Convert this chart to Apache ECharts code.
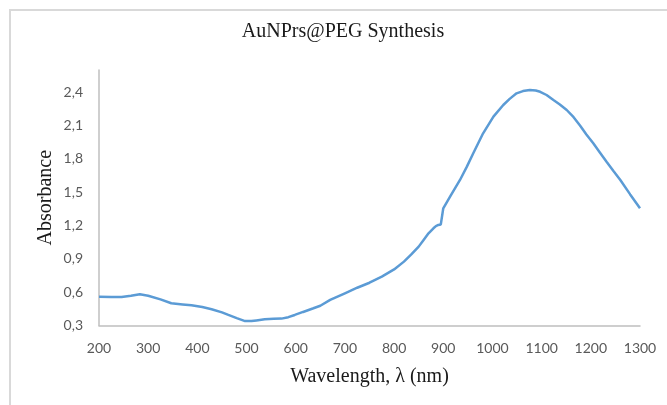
<!DOCTYPE html>
<html>
<head>
<meta charset="utf-8">
<script src="https://cdn.jsdelivr.net/npm/echarts@6/dist/echarts.min.js"></script>
<style>
html,body{margin:0;padding:0;background:#fff;}
#chart{width:667px;height:405px;}
</style>
</head>
<body>
<div id="chart"></div>
<script>
const wavelength = [200,225,246,265,283,300,325,347,370,388,410,429,450,463,480,497,510,520,537,555,571,585,598,615,636,650,670,700,725,750,775,800,820,835,850,860,870,880,885,890,895,899,900,915,934,948,961,981,1002,1022,1035,1049,1062,1076,1088,1097,1110,1124,1137,1151,1165,1178,1191,1205,1218,1232,1246,1260,1280,1300];
const absorbance = [0.559,0.557,0.556,0.568,0.581,0.568,0.535,0.500,0.490,0.482,0.466,0.446,0.418,0.395,0.366,0.340,0.340,0.346,0.356,0.360,0.362,0.375,0.395,0.422,0.455,0.478,0.530,0.590,0.640,0.685,0.740,0.805,0.875,0.940,1.010,1.070,1.130,1.175,1.195,1.205,1.210,1.210,1.355,1.470,1.610,1.730,1.850,2.030,2.180,2.285,2.340,2.390,2.410,2.420,2.415,2.404,2.375,2.330,2.290,2.240,2.175,2.100,2.020,1.940,1.860,1.774,1.690,1.610,1.480,1.355];
const chartTitle = 'AuNPrs@PEG Synthesis';
const xTitle = 'Wavelength, λ (nm)';
const yTitle = 'Absorbance';

const points = wavelength.map((w, i) => [w, absorbance[i]]);
const chart = echarts.init(document.getElementById('chart'), null, {renderer: 'canvas'});
chart.setOption({
  animation: false,
  backgroundColor: '#fff',
  graphic: [{
    type: 'rect',
    shape: {x: 10, y: 10, width: 700, height: 500},
    style: {fill: 'none', stroke: '#d9d9d9', lineWidth: 2},
    silent: true
  }],
  title: {
    text: chartTitle,
    left: 343, top: 22, padding: 0, textAlign: 'center',
    textStyle: {fontFamily: 'Liberation Serif', fontSize: 20, fontWeight: 'normal', color: '#1a1a1a'}
  },
  grid: {left: 99, right: 27, top: 70, bottom: 79.5, containLabel: false},
  xAxis: {
    type: 'value', min: 200, max: 1300, interval: 100,
    name: xTitle, nameLocation: 'middle', nameGap: 41, nameMoveOverlap: false,
    nameTextStyle: {fontFamily: 'Liberation Serif', fontSize: 20, color: '#1a1a1a'},
    axisLine: {show: true, lineStyle: {color: '#bfbfbf', width: 1.5}},
    axisTick: {show: false},
    splitLine: {show: false},
    axisLabel: {fontFamily: 'Lato', fontSize: 14, color: '#595959', margin: 16, formatter: v => String(v)}
  },
  yAxis: {
    type: 'value', min: 0.3, max: 2.6, interval: 0.3,
    name: yTitle, nameLocation: 'middle', nameGap: 43, nameRotate: 90, nameMoveOverlap: false,
    nameTextStyle: {fontFamily: 'Liberation Serif', fontSize: 20, color: '#1a1a1a'},
    axisLine: {show: true, lineStyle: {color: '#bfbfbf', width: 1.5}},
    axisTick: {show: false},
    splitLine: {show: false},
    axisLabel: {
      fontFamily: 'Lato', fontSize: 14, color: '#595959', margin: 16,
      formatter: v => v > 2.45 ? '' : v.toFixed(1).replace('.', ',')
    }
  },
  series: [{
    type: 'line',
    data: points,
    showSymbol: false,
    smooth: false,
    lineStyle: {color: '#5b9bd5', width: 2.5},
    itemStyle: {color: '#5b9bd5'}
  }]
});
</script>
</body>
</html>
